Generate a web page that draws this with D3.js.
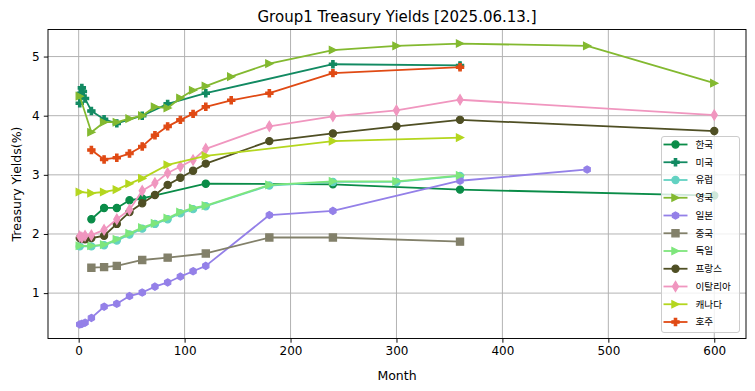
<!DOCTYPE html>
<html>
<head>
<meta charset="utf-8">
<script src="https://cdn.jsdelivr.net/npm/d3@7"></script>
<style>
  html, body { margin: 0; padding: 0; background: #fff; }
  svg { display: block; }
  text { font-family: "DejaVu Sans", sans-serif; fill: #000; }
  .kr { font-family: "Noto Sans CJK KR", "DejaVu Sans", sans-serif; }
</style>
</head>
<body>
<script>
// ---------------- DATA ----------------
const seriesNames = ["한국", "미국", "유럽", "영국", "일본", "중국", "독일", "프랑스", "이탈리아", "캐나다", "호주"];

const koreaMonths   = [12, 24, 36, 48, 60, 120, 240, 360, 600];
const koreaYields   = [2.25, 2.44, 2.44, 2.57, 2.60, 2.85, 2.84, 2.75, 2.65];

const usaMonths     = [1, 2, 3, 4, 6, 12, 24, 36, 60, 84, 120, 240, 360];
const usaYields     = [4.21, 4.38, 4.47, 4.41, 4.29, 4.08, 3.94, 3.87, 4.00, 4.20, 4.38, 4.87, 4.85];

const europeMonths  = [1, 12, 24, 36, 48, 60, 72, 84, 96, 108, 120, 180, 240, 300, 360];
const europeYields  = [1.79, 1.79, 1.81, 1.89, 1.99, 2.09, 2.17, 2.25, 2.35, 2.42, 2.47, 2.82, 2.88, 2.88, 2.98];

const ukMonths      = [1, 12, 24, 36, 48, 60, 72, 84, 96, 108, 120, 144, 180, 240, 300, 360, 480, 600];
const ukYields      = [4.33, 3.72, 3.89, 3.89, 3.95, 4.00, 4.15, 4.13, 4.30, 4.43, 4.50, 4.66, 4.88, 5.11, 5.18, 5.22, 5.18, 4.55];

const japanMonths   = [1, 3, 6, 12, 24, 36, 48, 60, 72, 84, 96, 108, 120, 180, 240, 360, 480];
const japanYields   = [0.47, 0.48, 0.50, 0.58, 0.77, 0.82, 0.95, 1.01, 1.11, 1.18, 1.28, 1.37, 1.46, 2.32, 2.39, 2.90, 3.09];

const chinaMonths   = [12, 24, 36, 60, 84, 120, 180, 240, 360];
const chinaYields   = [1.43, 1.44, 1.46, 1.56, 1.60, 1.67, 1.94, 1.94, 1.87];

const germanyMonths = [1, 12, 24, 36, 48, 60, 72, 84, 96, 108, 120, 180, 240, 300, 360];
const germanyYields = [1.80, 1.80, 1.82, 1.91, 2.01, 2.11, 2.18, 2.27, 2.37, 2.44, 2.48, 2.83, 2.89, 2.89, 2.99];

const franceMonths  = [1, 3, 6, 12, 24, 36, 48, 60, 72, 84, 96, 108, 120, 180, 240, 300, 360, 600];
const franceYields  = [1.93, 1.92, 1.91, 1.93, 1.97, 2.17, 2.37, 2.52, 2.66, 2.83, 2.95, 3.07, 3.19, 3.57, 3.70, 3.82, 3.93, 3.74];

const italyMonths   = [1, 3, 6, 12, 24, 36, 48, 60, 72, 84, 96, 108, 120, 180, 240, 300, 360, 600];
const italyYields   = [1.96, 1.94, 1.97, 1.98, 2.07, 2.25, 2.41, 2.73, 2.86, 3.03, 3.14, 3.25, 3.44, 3.82, 3.99, 4.09, 4.27, 4.01];

const canadaMonths  = [1, 12, 24, 36, 48, 60, 84, 120, 240, 360];
const canadaYields  = [2.71, 2.69, 2.71, 2.75, 2.85, 2.94, 3.17, 3.32, 3.57, 3.63];

const australiaMonths = [12, 24, 36, 48, 60, 72, 84, 96, 108, 120, 144, 180, 240, 360];
const australiaYields = [3.42, 3.26, 3.29, 3.36, 3.48, 3.67, 3.82, 3.93, 4.03, 4.15, 4.26, 4.38, 4.72, 4.82];

const xTicks = [0, 100, 200, 300, 400, 500, 600];
const yTicks = [1, 2, 3, 4, 5];

const titleText = "Group1 Treasury Yields [2025.06.13.]";
const xLabel = "Month";
const yLabel = "Treasury Yields(%)";

const seriesColors = ["#0a8c48", "#128a62", "#63d2c2", "#83b930", "#9480e8", "#82806a", "#7ee67c", "#4f4f24", "#f096bf", "#b4d61e", "#e04a14"];
const seriesMarkers = ["o", "P", "o", ">", "h", "s", ">", "o", "d", ">", "P"];

// ---------------- BUILD ----------------
const monthsList = [koreaMonths, usaMonths, europeMonths, ukMonths, japanMonths, chinaMonths, germanyMonths, franceMonths, italyMonths, canadaMonths, australiaMonths];
const yieldsList = [koreaYields, usaYields, europeYields, ukYields, japanYields, chinaYields, germanyYields, franceYields, italyYields, canadaYields, australiaYields];

const series = seriesNames.map((name, i) => ({
  name, color: seriesColors[i], marker: seriesMarkers[i],
  points: monthsList[i].map((m, j) => ({ x: m, y: yieldsList[i][j] }))
}));

const W = 755, H = 391;
const plot = { left: 48, right: 746, top: 29.5, bottom: 338.5 };

const allX = series.flatMap(s => s.points.map(p => p.x));
const allY = series.flatMap(s => s.points.map(p => p.y));
const [x0, x1] = d3.extent(allX), [y0, y1] = d3.extent(allY);
const xPad = (x1 - x0) * 0.05, yPad = (y1 - y0) * 0.05;

const x = d3.scaleLinear().domain([x0 - xPad, x1 + xPad]).range([plot.left, plot.right]);
const y = d3.scaleLinear().domain([y0 - yPad, y1 + yPad]).range([plot.bottom, plot.top]);

const PT = 1.2;          // px per point
const MS = 6 * PT;       // marker size
const LW = 1.5 * PT;     // line width
const MEW = 1 * PT;      // marker edge width

function markerPath(type, s) {
  const h = s / 2;
  switch (type) {
    case "o": {
      const p = d3.path(); p.arc(0, 0, h, 0, 2 * Math.PI); p.closePath(); return p.toString();
    }
    case "s":
      return `M${-h},${-h}L${h},${-h}L${h},${h}L${-h},${h}Z`;
    case ">":
      return `M${h},0L${-h},${-h}L${-h},${h}Z`;
    case "h": {
      const pts = d3.range(6).map(k => {
        const a = -Math.PI / 2 + k * Math.PI / 3;
        return [h * Math.cos(a), h * Math.sin(a)];
      });
      return "M" + pts.map(p => p.join(",")).join("L") + "Z";
    }
    case "d": {
      const hy = s * Math.SQRT1_2, hx = hy * 0.6;
      return `M0,${-hy}L${hx},0L0,${hy}L${-hx},0Z`;
    }
    case "P": {
      const u = s / 6;
      const v = [[-1,-3],[1,-3],[1,-1],[3,-1],[3,1],[1,1],[1,3],[-1,3],[-1,1],[-3,1],[-3,-1],[-1,-1]];
      return "M" + v.map(([a, b]) => `${a * u},${b * u}`).join("L") + "Z";
    }
  }
}

const svg = d3.select("body").append("svg").attr("width", W).attr("height", H);
svg.append("rect").attr("width", W).attr("height", H).attr("fill", "#fff");

// grid
const grid = svg.append("g");
grid.selectAll(".gx").data(xTicks).join("line")
  .attr("x1", d => x(d)).attr("x2", d => x(d))
  .attr("y1", plot.top).attr("y2", plot.bottom)
  .attr("stroke", "#b0b0b0").attr("stroke-width", 0.8 * PT);
grid.selectAll(".gy").data(yTicks).join("line")
  .attr("x1", plot.left).attr("x2", plot.right)
  .attr("y1", d => y(d)).attr("y2", d => y(d))
  .attr("stroke", "#b0b0b0").attr("stroke-width", 0.8 * PT);

// clip
svg.append("clipPath").attr("id", "clip").append("rect")
  .attr("x", plot.left).attr("y", plot.top)
  .attr("width", plot.right - plot.left).attr("height", plot.bottom - plot.top);

const dataG = svg.append("g").attr("clip-path", "url(#clip)");
const line = d3.line().x(d => x(d.x)).y(d => y(d.y));

series.forEach(s => {
  const g = dataG.append("g");
  g.append("path").attr("d", line(s.points)).attr("fill", "none")
    .attr("stroke", s.color).attr("stroke-width", LW)
    .attr("stroke-linejoin", "round").attr("stroke-linecap", "square");
  g.selectAll("path.m").data(s.points).join("path").attr("class", "m")
    .attr("d", markerPath(s.marker, MS))
    .attr("transform", d => `translate(${x(d.x)},${y(d.y)})`)
    .attr("fill", s.color).attr("stroke", s.color).attr("stroke-width", MEW)
    .attr("stroke-linejoin", "miter");
});

// axes
const xAxis = d3.axisBottom(x).tickValues(xTicks).tickFormat(d3.format("d")).tickSize(3.5 * PT).tickPadding(3.5 * PT);
const yAxis = d3.axisLeft(y).tickValues(yTicks).tickFormat(d3.format("d")).tickSize(3.5 * PT).tickPadding(3.5 * PT);

const gx = svg.append("g").attr("transform", `translate(0,${plot.bottom})`).call(xAxis);
const gy = svg.append("g").attr("transform", `translate(${plot.left},0)`).call(yAxis);
[gx, gy].forEach(g => {
  g.select(".domain").remove();
  g.selectAll("line").attr("stroke", "#000").attr("stroke-width", 0.8 * PT);
  g.selectAll("text").attr("font-family", "DejaVu Sans").attr("font-size", "12px").attr("fill", "#000");
});

// frame
svg.append("rect").attr("x", plot.left).attr("y", plot.top)
  .attr("width", plot.right - plot.left).attr("height", plot.bottom - plot.top)
  .attr("fill", "none").attr("stroke", "#000").attr("stroke-width", 0.8 * PT);

// labels
svg.append("text").attr("x", (plot.left + plot.right) / 2).attr("y", 22)
  .attr("text-anchor", "middle").attr("font-size", "15px").text(titleText);
svg.append("text").attr("x", (plot.left + plot.right) / 2).attr("y", 380)
  .attr("text-anchor", "middle").attr("font-size", "12.5px").text(xLabel);
svg.append("text").attr("transform", `translate(21,${(plot.top + plot.bottom) / 2}) rotate(-90)`)
  .attr("text-anchor", "middle").attr("font-size", "12.5px").text(yLabel);

// legend
const lg = svg.append("g");
lg.append("rect").attr("x", 661.5).attr("y", 136.5).attr("width", 78).attr("height", 196)
  .attr("rx", 2.5).attr("fill", "#fff").attr("fill-opacity", 0.8)
  .attr("stroke", "#cccccc").attr("stroke-width", 1);
series.forEach((s, i) => {
  const cy = 144.5 + i * 17.75;
  lg.append("line").attr("x1", 663.5).attr("x2", 687.5).attr("y1", cy).attr("y2", cy)
    .attr("stroke", s.color).attr("stroke-width", LW);
  lg.append("path").attr("d", markerPath(s.marker, MS))
    .attr("transform", `translate(675.5,${cy})`)
    .attr("fill", s.color).attr("stroke", s.color).attr("stroke-width", MEW);
  lg.append("text").attr("class", "kr").attr("x", 695.5).attr("y", cy)
    .attr("dy", "0.35em").attr("font-size", "9.6px").text(s.name);
});
</script>
</body>
</html>
